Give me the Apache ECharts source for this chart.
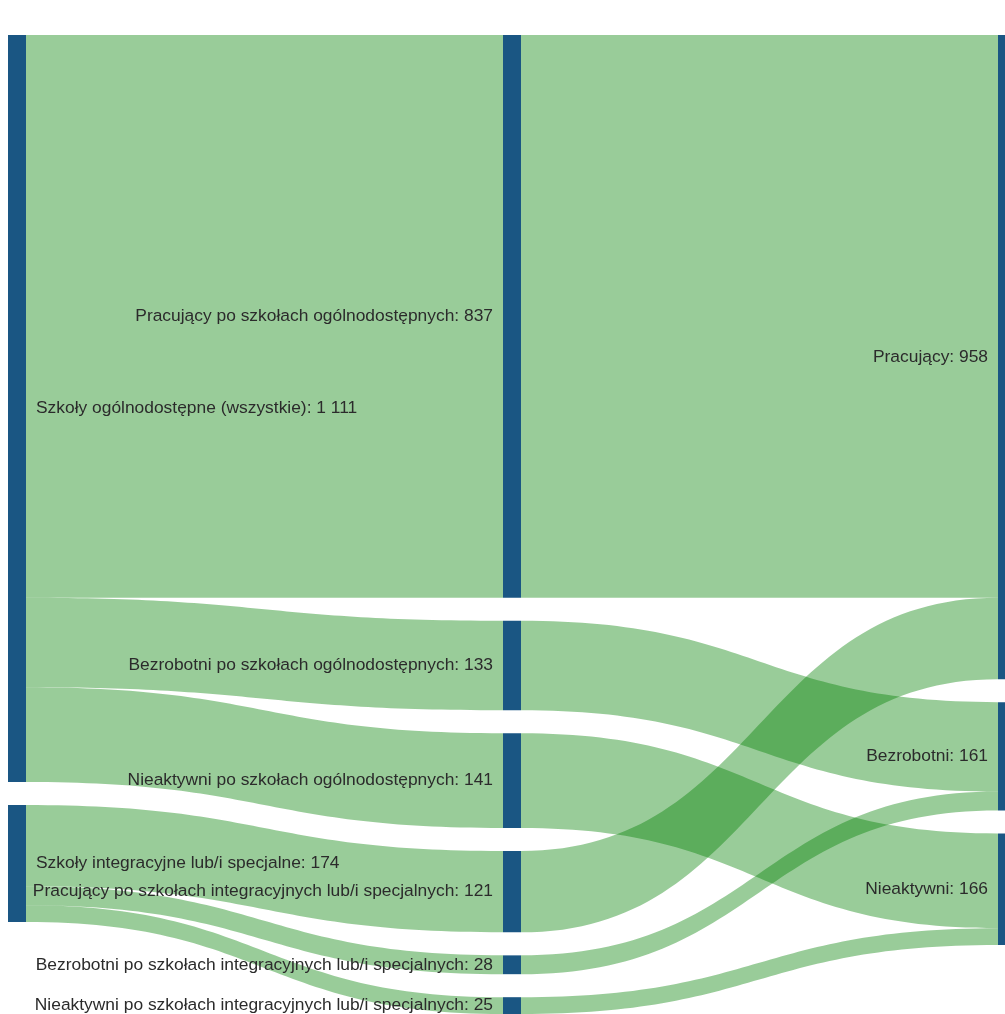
<!DOCTYPE html>
<html>
<head>
<meta charset="utf-8">
<title>Losy absolwentów</title>
<script src="https://cdn.jsdelivr.net/npm/echarts@6/dist/echarts.min.js"></script>
<style>
  html, body { margin: 0; padding: 0; background: #fff; }
  #chart { width: 1005px; height: 1014px; }
</style>
</head>
<body>
<div id="chart"></div>
<script>
// schools (first column)
var schoolNames = [
  "Szkoły ogólnodostępne (wszystkie)",
  "Szkoły integracyjne lub/i specjalne"
];
// status after school (middle column)
var statusNames = [
  "Pracujący po szkołach ogólnodostępnych",
  "Bezrobotni po szkołach ogólnodostępnych",
  "Nieaktywni po szkołach ogólnodostępnych",
  "Pracujący po szkołach integracyjnych lub/i specjalnych",
  "Bezrobotni po szkołach integracyjnych lub/i specjalnych",
  "Nieaktywni po szkołach integracyjnych lub/i specjalnych"
];
var statusValues = [837, 133, 141, 121, 28, 25];
var statusSchool = [0, 0, 0, 1, 1, 1];
var statusOutcome = [0, 1, 2, 0, 1, 2];
// totals (last column)
var outcomeNames = ["Pracujący", "Bezrobotni", "Nieaktywni"];

function fmt(v){
  return String(v).replace(/\B(?=(\d{3})+(?!\d))/g, " ");
}

var nodes = [];
schoolNames.forEach(function(n){
  nodes.push({name:n, label:{position:"right"}});
});
statusNames.forEach(function(n){
  nodes.push({name:n, label:{position:"left"}});
});
outcomeNames.forEach(function(n){
  nodes.push({name:n, label:{position:"left"}});
});

var links = [];
statusNames.forEach(function(n,i){
  links.push({source:schoolNames[statusSchool[i]], target:n, value:statusValues[i]});
});
statusNames.forEach(function(n,i){
  links.push({source:n, target:outcomeNames[statusOutcome[i]], value:statusValues[i]});
});

var myChart = echarts.init(document.getElementById("chart"));
myChart.setOption({
  animation:false,
  series:[{
    type:"sankey",
    left:8,
    top:35,
    width:1008,
    bottom:0,
    nodeWidth:18,
    nodeGap:23,
    layoutIterations:0,   // keep the order of the data
    draggable:false,
    emphasis:{disabled:true},
    data:nodes,
    links:links,
    itemStyle:{color:"#1a5683", borderWidth:0},
    lineStyle:{color:"#008000", opacity:0.4, curveness:0.5},
    label:{
      distance:10,
      fontFamily:"Liberation Sans, Arial, sans-serif",
      fontSize:17.4,
      color:"#2b2b2b",
      formatter:function(p){ return p.name + ": " + fmt(p.value); }
    }
  }]
});
</script>
</body>
</html>
